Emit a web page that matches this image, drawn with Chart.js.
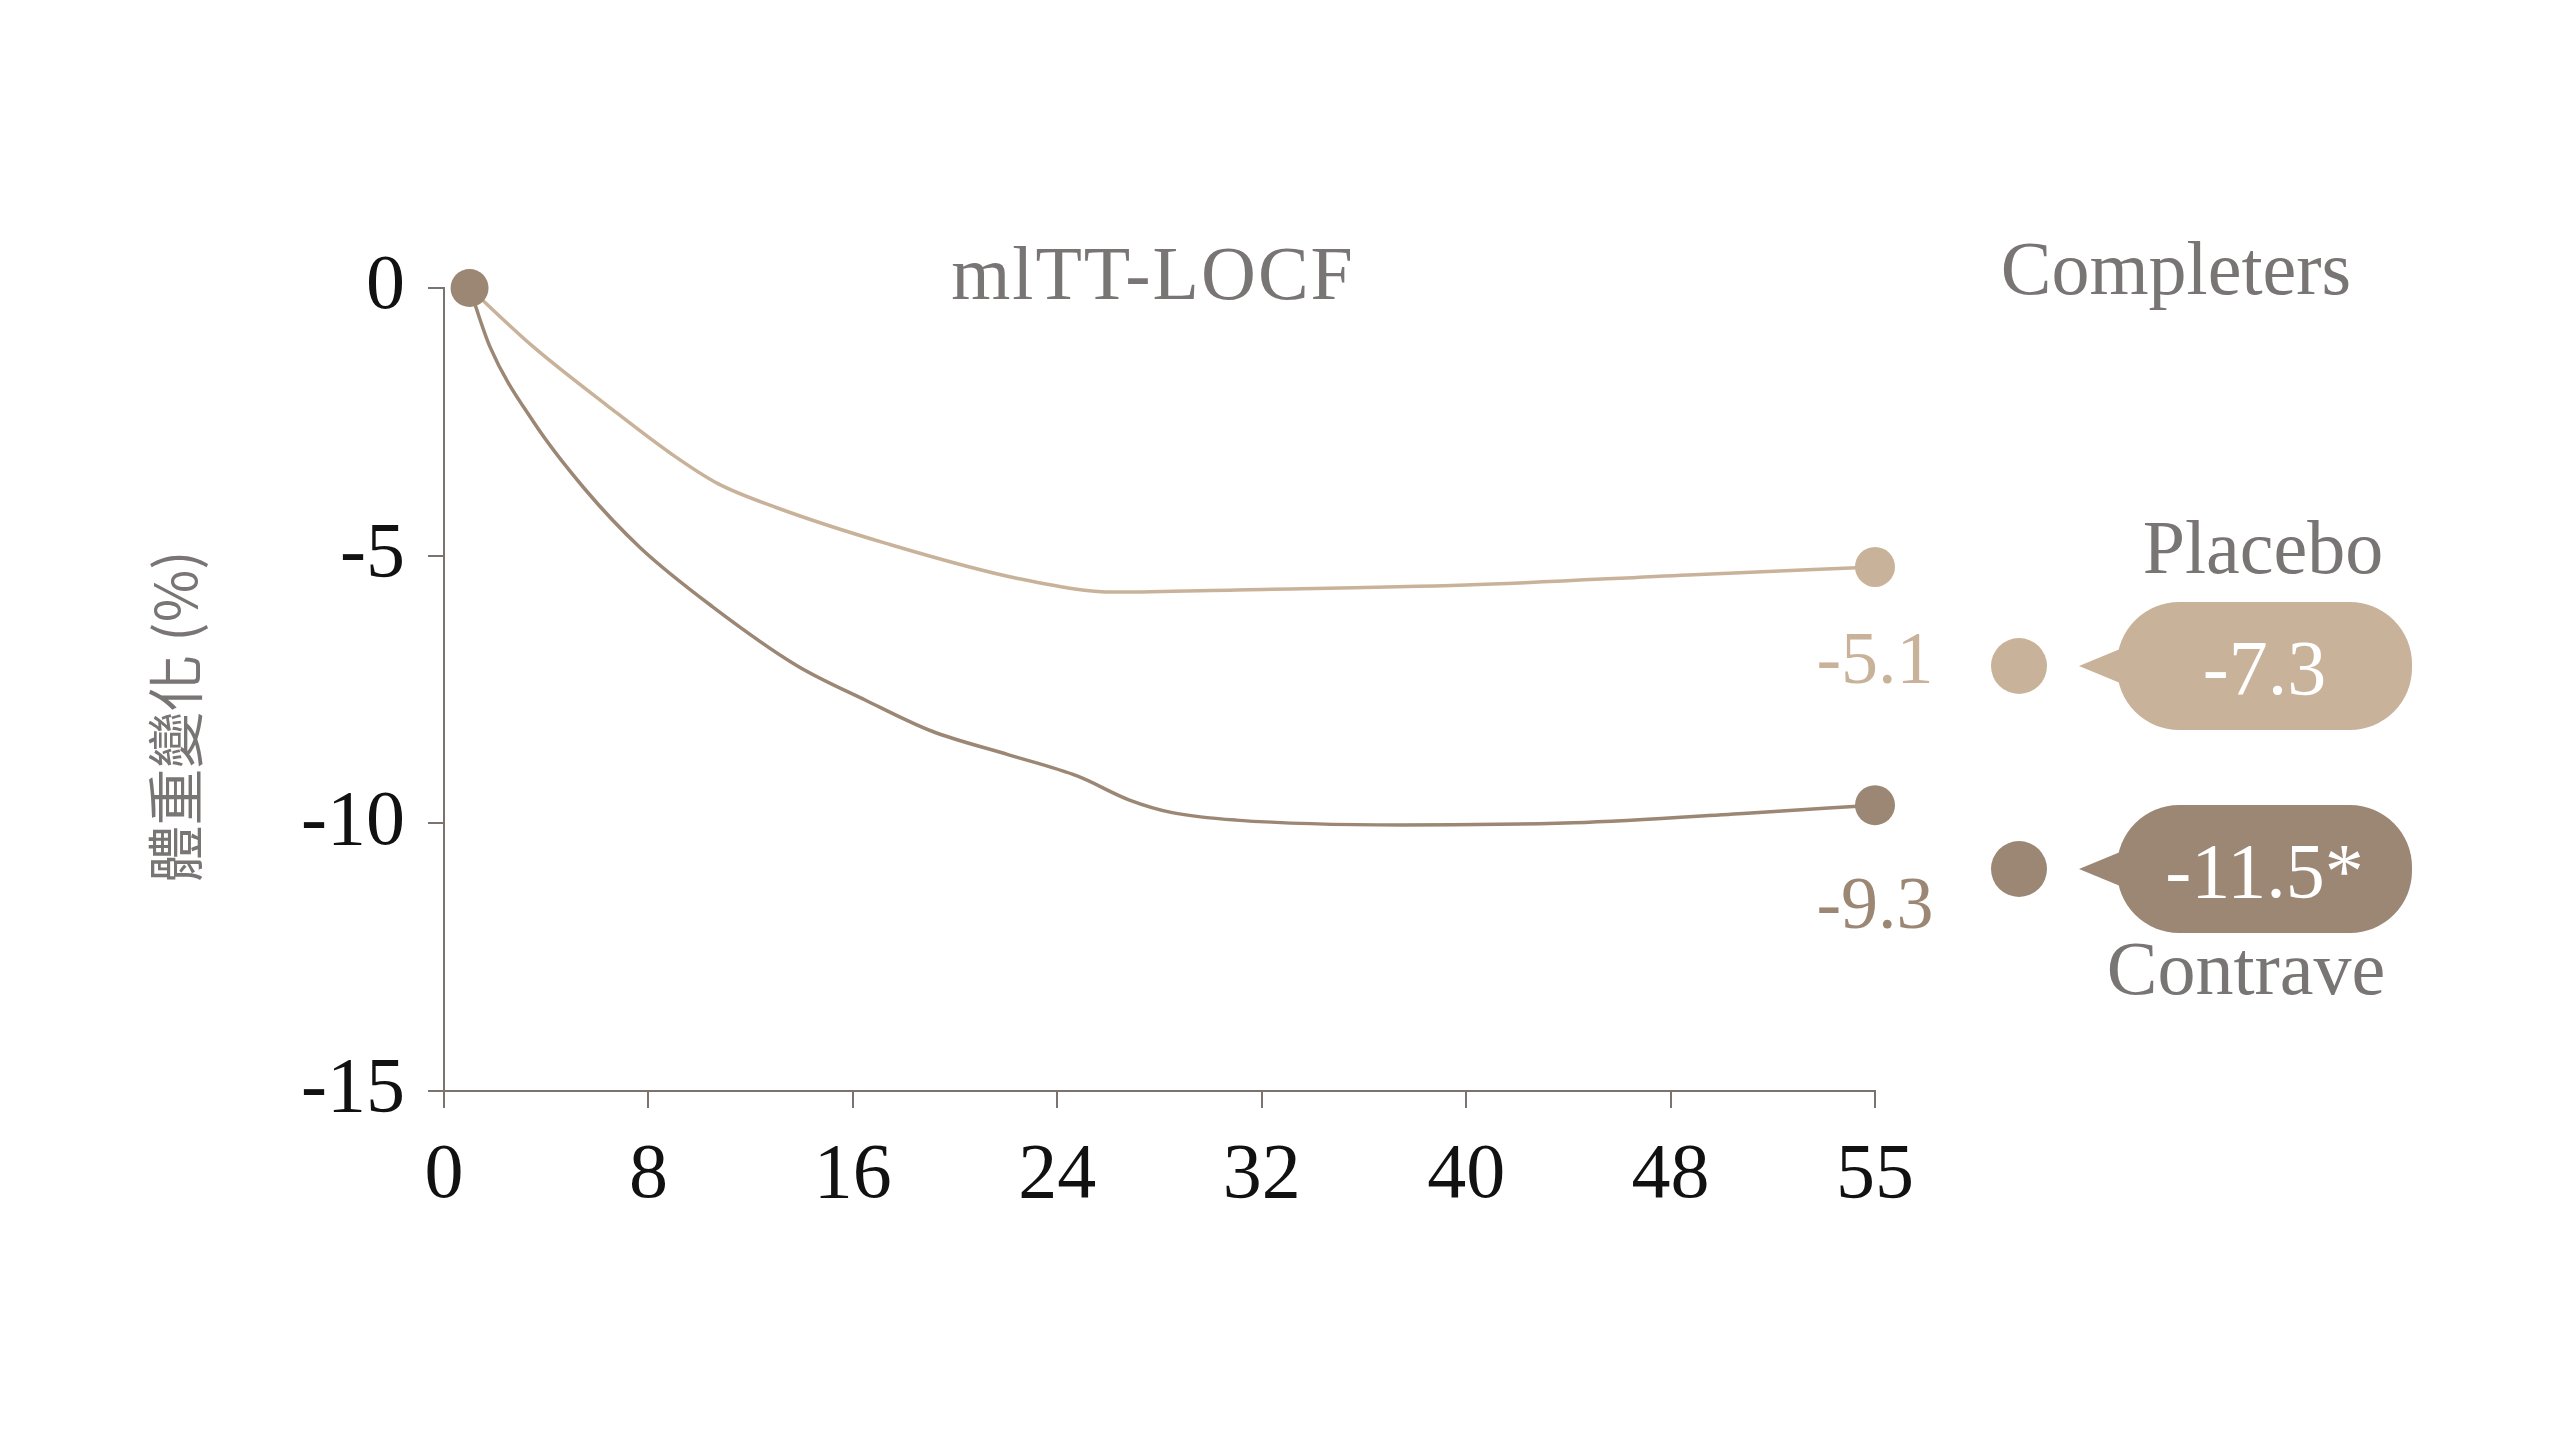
<!DOCTYPE html>
<html>
<head>
<meta charset="utf-8">
<script src="https://cdn.jsdelivr.net/npm/chart.js@4.4.0/dist/chart.umd.min.js"></script>
<style>
	html, body { margin: 0; background: #fff; }
	#wrap { width: 2560px; height: 1440px; }
</style>
</head>
<body>
<div id="wrap"><canvas id="weightChart"></canvas></div>
<script>
// x positions on the week axis (last tick is labelled 55)
var xTickLabels = ['0', '8', '16', '24', '32', '40', '48', '55'];

var placeboWeeks = [1, 3.5, 6.4, 8.9, 10.7, 13, 17.3, 22.5, 26.3, 31, 40, 48.7, 56];
var placeboValues = [0, -1.1, -2.2, -3.1, -3.65, -4.1, -4.77, -5.43, -5.68, -5.64, -5.55, -5.36, -5.21];

var contraveWeeks = [1, 1.8, 3.5, 5.5, 7.7, 10.5, 13.8, 16.5, 19.1, 22.1, 24.8, 26.8, 28.5, 31, 37.5, 44.2, 51, 56];
var contraveValues = [0, -1.1, -2.5, -3.75, -4.86, -5.95, -7.05, -7.7, -8.28, -8.72, -9.12, -9.56, -9.8, -9.94, -10.03, -9.99, -9.81, -9.66];

var groupNames = ['Placebo', 'Contrave'];
var endLabels = ['-5.1', '-9.3'];
var completerLabels = ['-7.3', '-11.5*'];

var placeboColor = '#C9B29A';
var contraveColor = '#9B8774';
var greyText = '#797574';
var axisColor = '#7d736e';
var serif = "'Liberation Serif', serif";

function toPoints(xs, ys) {
	return xs.map(function (x, i) { return { x: x, y: ys[i] }; });
}

var annotations = {
	id: 'annotations',
	afterDraw: function (chart) {
		var ctx = chart.ctx;
		var area = chart.chartArea;
		var xs = chart.scales.x, ys = chart.scales.y;
		ctx.save();

		// headings
		ctx.fillStyle = greyText;
		ctx.font = '76px ' + serif;
		ctx.textAlign = 'center';
		ctx.textBaseline = 'alphabetic';
		ctx.letterSpacing = '2px';
		ctx.fillText('mlTT-LOCF', area.left + 709, area.top + 11);
		ctx.letterSpacing = '0px';
		ctx.fillText('Completers', area.right + 301, area.top + 6);
		ctx.fillText(groupNames[0], area.right + 388, area.top + 285);
		ctx.fillText(groupNames[1], area.right + 371, area.top + 706);

		// end of line labels
		ctx.font = '74px ' + serif;
		var endP = [placeboValues[placeboValues.length - 1], contraveValues[contraveValues.length - 1]];
		var endX = [placeboWeeks[placeboWeeks.length - 1], contraveWeeks[contraveWeeks.length - 1]];
		ctx.fillStyle = placeboColor;
		ctx.fillText(endLabels[0], xs.getPixelForValue(endX[0]), ys.getPixelForValue(endP[0]) + 116);
		ctx.fillStyle = contraveColor;
		ctx.fillText(endLabels[1], xs.getPixelForValue(endX[1]), ys.getPixelForValue(endP[1]) + 123);

		// completers: dot + speech bubble
		var rows = [area.top + 378, area.top + 581];
		var cols = [placeboColor, contraveColor];
		rows.forEach(function (cy, i) {
			ctx.fillStyle = cols[i];
			ctx.beginPath();
			ctx.arc(area.right + 144, cy, 28, 0, Math.PI * 2);
			ctx.fill();

			var left = area.right + 242, right = area.right + 537, h = 128;
			ctx.beginPath();
			ctx.roundRect(left, cy - h / 2, right - left, h, 62);
			ctx.fill();
			ctx.beginPath();
			ctx.moveTo(area.right + 204, cy);
			ctx.lineTo(left + 8, cy - 19);
			ctx.lineTo(left + 8, cy + 19);
			ctx.closePath();
			ctx.fill();

			ctx.fillStyle = '#ffffff';
			ctx.font = '78px ' + serif;
			ctx.fillText(completerLabels[i], (left + right) / 2, cy + 28);
		});

		// y axis title
		ctx.fillStyle = greyText;
		ctx.font = "57px 'Noto Sans CJK TC', sans-serif";
		ctx.textBaseline = 'middle';
		ctx.translate(175, (area.top + area.bottom) / 2 + 27);
		ctx.rotate(-Math.PI / 2);
		ctx.fillText('體重變化 (%)', 0, 0);
		ctx.restore();
	}
};

function start() {
	var ctx = document.getElementById('weightChart').getContext('2d');
	var weightChart = new Chart(ctx, {
		type: 'line',
		data: {
			datasets: [{
				label: groupNames[1],
				data: toPoints(contraveWeeks, contraveValues),
				borderColor: contraveColor,
				backgroundColor: contraveColor,
				borderWidth: 3.5,
				cubicInterpolationMode: 'monotone',
				pointRadius: function (c) {
					return (c.dataIndex === 0) ? 19 : (c.dataIndex === contraveValues.length - 1 ? 20 : 0);
				},
				pointBorderWidth: 0,
				pointHoverRadius: 0,
				clip: false
			}, {
				label: groupNames[0],
				data: toPoints(placeboWeeks, placeboValues),
				borderColor: placeboColor,
				backgroundColor: placeboColor,
				borderWidth: 3.5,
				cubicInterpolationMode: 'monotone',
				pointRadius: function (c) {
					return c.dataIndex === placeboValues.length - 1 ? 20 : 0;
				},
				pointBorderWidth: 0,
				pointHoverRadius: 0,
				clip: false
			}]
		},
		options: {
			responsive: true,
			maintainAspectRatio: false,
			animation: false,
			layout: { padding: { top: 288, right: 685, left: 0, bottom: 0 } },
			plugins: {
				legend: { display: false },
				tooltip: { enabled: false }
			},
			scales: {
				x: {
					type: 'linear',
					min: 0,
					max: 56,
					afterFit: function (s) { s.height = 349; },
					grid: { drawOnChartArea: false, color: axisColor, lineWidth: 2, tickLength: 17 },
					border: { color: axisColor, width: 2 },
					ticks: {
						stepSize: 8,
						padding: 22,
						color: '#111',
						font: { family: serif, size: 78 },
						callback: function (v) { return xTickLabels[Math.round(v / 8)]; }
					}
				},
				y: {
					min: -15,
					max: 0,
					afterFit: function (s) { s.width = 444; },
					grid: { drawOnChartArea: false, color: axisColor, lineWidth: 2, tickLength: 16 },
					border: { color: axisColor, width: 2 },
					ticks: {
						stepSize: 5,
						padding: 23,
						color: '#111',
						font: { family: serif, size: 78 }
					}
				}
			}
		},
		plugins: [annotations]
	});
}

window.onload = start;
</script>
</body>
</html>
